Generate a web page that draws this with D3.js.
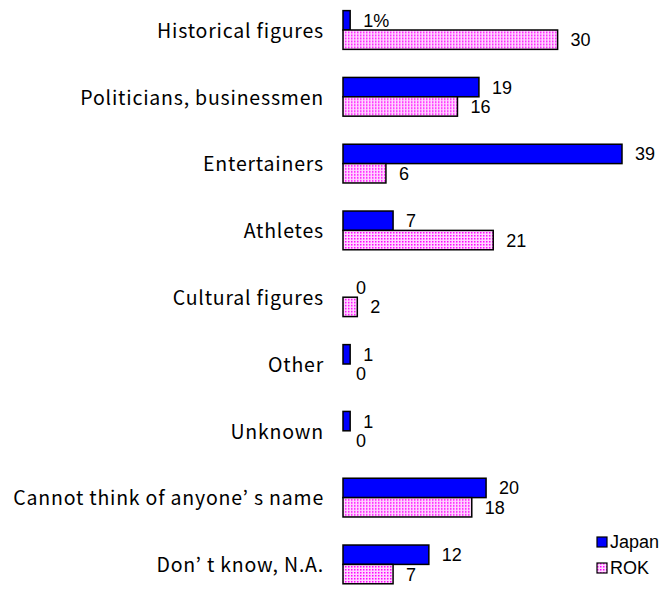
<!DOCTYPE html>
<html>
<head>
<meta charset="utf-8">
<script src="https://cdn.jsdelivr.net/npm/d3@7"></script>
<style>
  html, body { margin: 0; padding: 0; background: #fff; }
  svg { display: block; }
</style>
</head>
<body>
<svg id="chart" width="667" height="589"></svg>
<script>
// Categories, top to bottom
const categories = [
  "Historical figures",
  "Politicians, businessmen",
  "Entertainers",
  "Athletes",
  "Cultural figures",
  "Other",
  "Unknown",
  "Cannot think of anyone’ s name",
  "Don’ t know, N.A."
];
// Percentages per country
const japanValues = [1, 19, 39, 7, 0, 1, 1, 20, 12];
const rokValues   = [30, 16, 6, 21, 2, 0, 0, 18, 7];
const seriesNames = ["Japan", "ROK"];

const labelFont = "'Noto Sans CJK JP', 'Noto Sans', sans-serif";
const numFont = "'Liberation Sans', Arial, sans-serif";
const svg = d3.select("#chart");

// Dotted pink fill for the ROK series
const defs = svg.append("defs");
const pat = defs.append("pattern")
  .attr("id", "dots")
  .attr("patternUnits", "userSpaceOnUse")
  .attr("width", 3).attr("height", 3);
pat.append("rect").attr("width", 3).attr("height", 3).attr("fill", "#ffd6ff");
pat.append("rect").attr("width", 1.5).attr("height", 1.5).attr("fill", "#ff00ff");

const x = d3.scaleLinear().domain([0, 39]).range([343, 622]);
const y = d3.scaleBand().domain(categories).range([-3.4, 597.8]).paddingInner(0.42).paddingOuter(0.21);

const data = categories.map((c, i) => ({ cat: c, vals: [japanValues[i], rokValues[i]] }));
const sub = d3.scaleBand().domain([0, 1]).range([0, y.bandwidth()]);

const fills = ["#0000ff", "url(#dots)"];

const groups = svg.selectAll("g.cat").data(data).join("g")
  .attr("class", "cat")
  .attr("transform", d => `translate(0,${y(d.cat)})`);

groups.selectAll("rect").data(d => d.vals).join("rect")
  .attr("x", x(0))
  .attr("y", (v, j) => sub(j))
  .attr("width", v => x(v) - x(0))
  .attr("height", sub.bandwidth())
  .attr("fill", (v, j) => fills[j])
  .attr("stroke", "#000")
  .attr("stroke-width", 1.5);

// Value labels
groups.selectAll("text.val").data((d, i) => d.vals.map((v, j) => ({ v, j, first: i === 0 }))).join("text")
  .attr("class", "val")
  .attr("x", d => x(d.v) + 13)
  .attr("y", d => sub(d.j) + sub.bandwidth() / 2)
  .attr("dy", "0.36em")
  .attr("font-family", numFont)
  .attr("font-size", 18)
  .attr("fill", "#000")
  .text(d => d.first && d.j === 0 ? d.v + "%" : d.v);

// Category labels
svg.selectAll("text.cat").data(categories).join("text")
  .attr("class", "cat")
  .attr("x", 324)
  .attr("y", d => y(d) + y.bandwidth() / 2)
  .attr("dy", "0.4em")
  .attr("text-anchor", "end")
  .attr("font-family", labelFont)
  .attr("font-size", 19.5)
  .attr("letter-spacing", 0.8)
  .attr("fill", "#000")
  .text(d => d);

// Legend
const legend = svg.append("g").attr("transform", "translate(597,537)");
const li = legend.selectAll("g").data(seriesNames).join("g")
  .attr("transform", (d, i) => `translate(0,${i * 26})`);
li.append("rect")
  .attr("x", 0).attr("y", 0).attr("width", 10).attr("height", 10)
  .attr("fill", (d, i) => fills[i])
  .attr("stroke", "#000").attr("stroke-width", 1.2);
li.append("text")
  .attr("x", 13).attr("y", 5).attr("dy", "0.36em")
  .attr("font-family", numFont).attr("font-size", 18)
  .text(d => d);
</script>
</body>
</html>
